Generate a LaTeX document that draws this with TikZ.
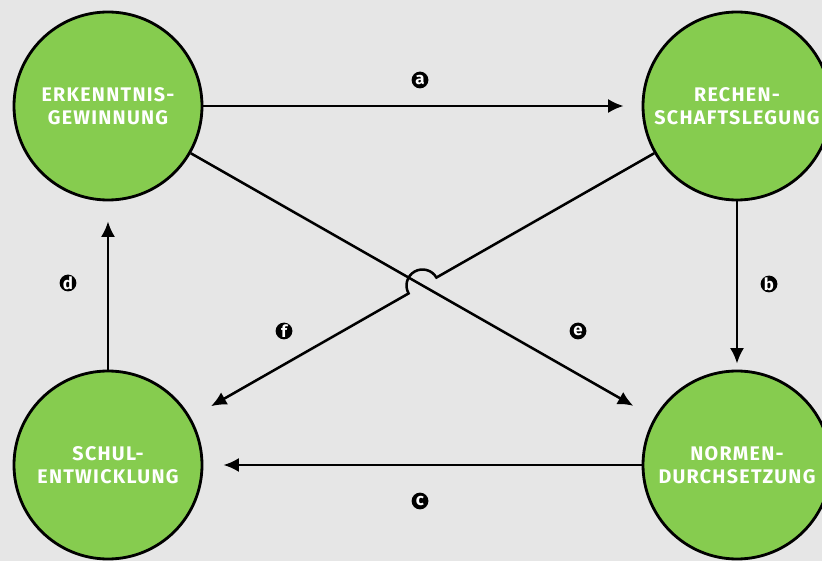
\documentclass[tikz,border=0pt]{standalone}
\usepackage{fontspec}
\usepackage{tikz}
\usetikzlibrary{arrows.meta,calc}
\newfontfamily\stagefont[LetterSpace=6.5]{Fira Sans}
\newfontfamily\markfont{Fira Sans}
\definecolor{stagegreen}{HTML}{86CC4F}
\definecolor{paper}{HTML}{E6E6E6}
\tikzset{
    stage/.style={circle, draw=black, line width=2pt, fill=stagegreen,
        minimum size=4.7cm, inner sep=0pt, align=center, text=white,
        font=\stagefont\bfseries\fontsize{14}{16.3}\selectfont},
    flow/.style={line width=1.8pt, -{Latex[length=11pt, width=10pt]}},
    tag/.style={circle, fill=black, text=white, inner sep=0pt,
        minimum size=0.42cm, font=\markfont\bfseries\fontsize{12}{12}\selectfont}
}
\begin{document}
\begin{tikzpicture}
    \useasboundingbox (0, 0) rectangle (20.55, 14.025);
    \fill[paper] (0, 0) rectangle (20.55, 14.025);
    \begin{scope}
    \clip (0, 0) rectangle (20.55, 14.025);
    % Stages.
    \node[stage] (erkenntnis) at (2.7, 11.375) {ERKENNTNIS-\\GEWINNUNG};
    \node[stage] (rechenschaft) at (18.425, 11.375) {RECHEN-\\SCHAFTSLEGUNG};
    \node[stage] (schule) at (2.7, 2.4) {SCHUL-\\ENTWICKLUNG};
    \node[stage] (normen) at (18.425, 2.4) {NORMEN-\\DURCHSETZUNG};
    % straight arrows around the square.
    \draw[flow, shorten >=0.45cm] (erkenntnis) -- (rechenschaft);
    \draw[flow, shorten >=0.15cm] (rechenschaft) -- (normen);
    \draw[flow, shorten >=0.5cm] (normen) -- (schule);
    \draw[flow, shorten >=0.5cm] (schule) -- (erkenntnis);
    % diagonal arrows, crossing in the middle.
    \coordinate (cross) at ($(erkenntnis)!0.5!(normen)$);
    \coordinate (hop start) at ($(cross)!0.4cm!(rechenschaft)$);
    \draw[flow, shorten >=0.6cm] (erkenntnis) -- (normen);
    \draw[flow, shorten >=0.58cm] (rechenschaft) -- (hop start)
        arc[start angle=29.7, end angle=209.7, radius=0.4cm] -- (schule);
    % arrow labels.
    \node[tag] (label a) at (10.5, 12.025) {a};
    \node[tag] (label b) at (19.225, 6.925) {b};
    \node[tag] (label c) at (10.5, 1.5) {c};
    \node[tag] (label d) at (1.7, 6.95) {d};
    \node[tag] (label e) at (14.45, 5.75) {e};
    \node[tag] (label f) at (7.1, 5.75) {f};
    \end{scope}
\end{tikzpicture}
\end{document}
